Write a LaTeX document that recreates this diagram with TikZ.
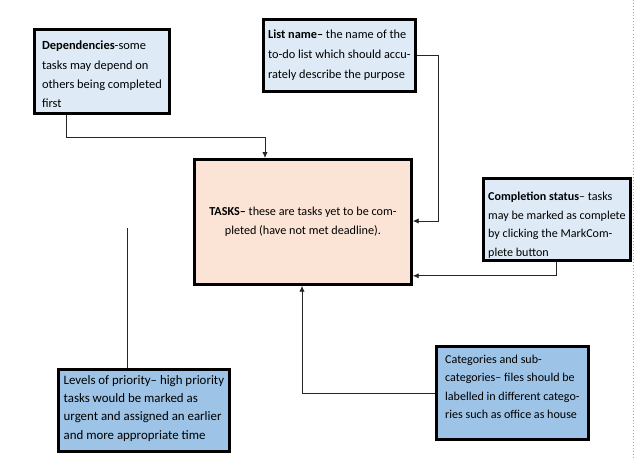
\documentclass[tikz,border=0pt]{standalone}
\usepackage{fontspec}
\setmainfont{Carlito}
\usetikzlibrary{arrows.meta}

\definecolor{paleblue}{HTML}{DEEBF7}
\definecolor{midblue}{HTML}{9DC3E6}
\definecolor{peach}{HTML}{FBE4D5}
\definecolor{pageline}{HTML}{8EAADB}

\tikzset{
  infobox/.style={draw, line width=2.4pt, anchor=north west, align=left,
    inner xsep=2pt, inner ysep=2pt},
  link/.style={draw=black!85, line width=0.7pt},
  arrowlink/.style={link, -{Latex[length=5pt,width=4.5pt]}}
}

\begin{document}
\begin{tikzpicture}[x=0.03cm, y=-0.03cm]
    \useasboundingbox (0,0) rectangle (640,460);

    % page margin
    \draw[pageline, dotted, line width=0.6pt] (633,0) -- (633,460);

    % draw boxes
    \node[infobox, fill=paleblue, minimum width=4.05cm, minimum height=2.52cm,
      font=\fontsize{10.6}{16.5}\selectfont] (dep) at (33,28)
      {\rule{0pt}{12.5pt}\textbf{Dependencies}-some\\tasks may depend on\\others being completed\\first};
    \node[infobox, fill=paleblue, minimum width=4.56cm, minimum height=2.16cm,
      font=\fontsize{10.5}{17.3}\selectfont] (list) at (262,18)
      {\textbf{List name–} the name of the\\to-do list which should accu-\\rately describe the purpose};
    \node[infobox, fill=peach, align=center, minimum width=6.51cm, minimum height=3.75cm,
      font=\fontsize{10.4}{16.2}\selectfont] (tasks) at (193,158)
      {\textbf{TASKS–} these are tasks yet to be com-\\pleted (have not met deadline).};
    \node[infobox, fill=paleblue, minimum width=4.41cm, minimum height=2.22cm,
      font=\fontsize{10.3}{15.8}\selectfont] (compl) at (482,177)
      {\rule{0pt}{17pt}\textbf{Completion status}– tasks\\may be marked as complete\\by clicking the MarkCom-\\plete button};
    \node[infobox, fill=midblue, minimum width=5.13cm, minimum height=2.46cm,
      font=\fontsize{11}{15.6}\selectfont] (levels) at (57,368)
      {Levels of priority– high priority\\tasks would be marked as\\urgent and assigned an earlier\\and more appropriate time\\[-10pt]\mbox{}};
    \node[infobox, fill=midblue, minimum width=4.56cm, minimum height=2.79cm,
      font=\fontsize{10.3}{15.8}\selectfont] (cat) at (435,345)
      {Categories and sub-\\categories– files should be\\labelled in different catego-\\ries such as office as house\\[-5pt]\mbox{}};

    % draw connectors
    \draw[arrowlink] ([shift={(33,0)}]dep.south west) -- ++(0,23) -| ([shift={(72,0)}]tasks.north west);
    \draw[arrowlink] ([shift={(0,37)}]list.north east) -- ++(22,0) |- ([shift={(0,63)}]tasks.north east);
    \draw[arrowlink] ([shift={(74,0)}]compl.south west) |- ([shift={(0,-10)}]tasks.south east);
    \draw[arrowlink] ([shift={(0,48)}]cat.north west) -| ([shift={(109,0)}]tasks.south west);
    \coordinate (prilink) at (127,228);
    \draw[link] ([shift={(70,0)}]levels.north west) -- (prilink);
  \end{tikzpicture}
\end{document}
